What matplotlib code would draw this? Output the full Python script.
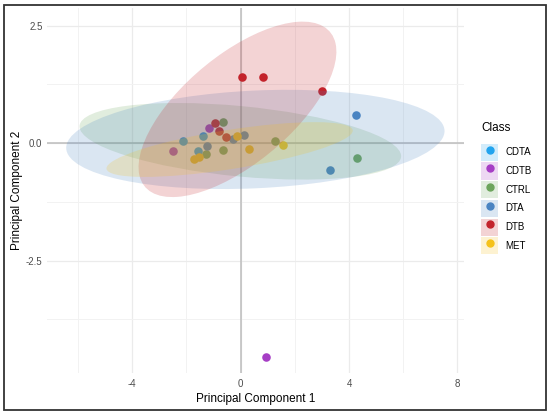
import matplotlib
matplotlib.use("Agg")
import matplotlib.pyplot as plt
from matplotlib.patches import Ellipse, Patch, Rectangle
from matplotlib.lines import Line2D
from matplotlib.legend_handler import HandlerTuple

plt.rcParams['font.family'] = ['Liberation Sans', 'DejaVu Sans']
plt.rcParams['axes.unicode_minus'] = False

# classes and colours
classes = ["CDTA", "CDTB", "CTRL", "DTA", "DTB", "MET"]
colors = ["#22A4EE", "#A63EC5", "#6CA55C", "#4A84C2", "#C3232B", "#F5C21B"]

# PCA scores
pc1 = {
    "CDTA": [-1.40, -2.13, -1.57],
    "CDTB": [-1.17, -2.49, 0.93],
    "CTRL": [4.28, 1.26, -0.66, -1.26, -0.66],
    "DTA":  [4.24, 3.28, 0.13, -0.28, -1.23],
    "DTB":  [0.05, 0.84, 2.99, -0.54, -0.79, -0.96],
    "MET":  [1.56, 0.30, -0.15, -1.53, -1.71],
}
pc2 = {
    "CDTA": [0.16, 0.04, -0.17],
    "CDTB": [0.33, -0.17, -4.54],
    "CTRL": [-0.32, 0.04, 0.46, -0.24, -0.15],
    "DTA":  [0.61, -0.58, 0.18, 0.09, -0.07],
    "DTB":  [1.40, 1.40, 1.12, 0.14, 0.26, 0.42],
    "MET":  [-0.04, -0.12, 0.16, -0.30, -0.33],
}

# 95% ellipses as seen in the picture (groups with too few points have none)
ell_class = ["CTRL", "DTA", "DTB", "MET"]
ell_cx = [-0.01, 0.545, -0.115, -0.405]
ell_cy = [0.04, 0.08, 0.72, -0.135]
ell_a = [5.94, 6.98, 3.88, 4.56]
ell_b = [0.75, 1.04, 1.32, 0.42]
ell_angle = [-3.1, 1.5, 21.2, 5.1]

fig = plt.figure(figsize=(5.5, 4.15), dpi=100)
ax = fig.add_axes([0.086, 0.1012, 0.7576, 0.8788])

col = dict(zip(classes, colors))

# grid
ax.set_xticks([-4, 0, 4, 8])
ax.set_xticks([-6, -2, 2, 6], minor=True)
ax.set_yticks([-2.5, 0, 2.5])
ax.set_yticks([-3.75, -1.25, 1.25], minor=True)
ax.set_yticklabels(["-2.5", "0.0", "2.5"])
ax.grid(which="major", color="#EBEBEB", linewidth=0.9, zorder=0)
ax.grid(which="minor", color="#F2F2F2", linewidth=0.7, zorder=0)
ax.set_axisbelow(True)

ax.axhline(0, color="#BDBDBD", linewidth=1.1, zorder=1)
ax.axvline(0, color="#BDBDBD", linewidth=1.1, zorder=1)

for c in classes:
    ax.scatter(pc1[c], pc2[c], s=38, color=col[c], linewidths=0, zorder=2)

for i, c in enumerate(ell_class):
    e = Ellipse((ell_cx[i], ell_cy[i]), 2 * ell_a[i], 2 * ell_b[i],
                angle=ell_angle[i], facecolor=col[c], alpha=0.2,
                edgecolor="none", zorder=3)
    ax.add_patch(e)

ax.set_xlim(-7.13, 8.24)
ax.set_ylim(-4.89, 2.87)

for s in ax.spines.values():
    s.set_visible(False)
ax.tick_params(which="both", length=0, labelsize=7, labelcolor="#4D4D4D")
ax.tick_params(axis="x", pad=4)
ax.tick_params(axis="y", pad=3.5)
ax.set_xlabel("Principal Component 1", fontsize=8.5, labelpad=3)
ax.set_ylabel("Principal Component 2", fontsize=8.5, labelpad=2)

handles = [(Patch(facecolor=col[c], alpha=0.2, edgecolor="none"),
            Line2D([], [], marker="o", color=col[c], linestyle="", markersize=5))
           for c in classes]
leg = fig.legend(handles, classes, title="Class", loc="upper left",
                 bbox_to_anchor=(481 / 550, 1 - 122 / 415), frameon=False,
                 fontsize=7, title_fontsize=8.5, handlelength=1.78,
                 handleheight=2.36, handletextpad=0.7, labelspacing=0.144,
                 borderpad=0, borderaxespad=0, alignment="left",
                 handler_map={tuple: HandlerTuple(ndivide=1, pad=0)})
# more room between the title and the keys, as in ggplot
leg._legend_box.sep = 7

# frame round the picture
fig.patches.append(Rectangle((4 / 550, 5.5 / 415), 541.5 / 550, 404 / 415,
                             transform=fig.transFigure, fill=False,
                             edgecolor="#333333", linewidth=1.3))

fig.savefig("out.png", dpi=100)
